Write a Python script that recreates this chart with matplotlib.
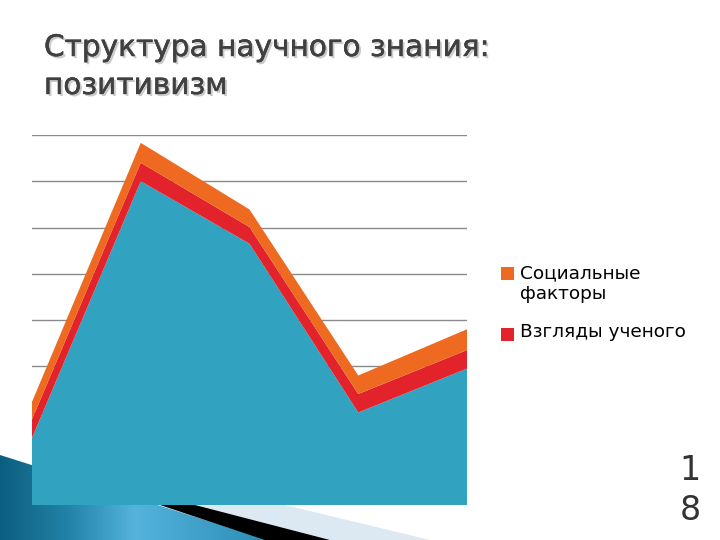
import matplotlib
matplotlib.use('Agg')
import matplotlib.pyplot as plt
import matplotlib.patheffects as pe
from matplotlib.patches import Polygon, Rectangle
from matplotlib.colors import LinearSegmentedColormap
import numpy as np

plt.rcParams['font.family'] = ['DejaVu Sans']

# chart data (stacked, bottom to top)
categories = ['1', '2', '3', '4', '5']
base_values = [1.45, 7.0, 5.65, 2.0, 2.95]
views_values = [0.4, 0.4, 0.36, 0.4, 0.4]
social_values = [0.38, 0.43, 0.38, 0.4, 0.45]
series_names = ['Социальные\nфакторы', 'Взгляды ученого']
title_lines = ['Структура научного знания:', 'позитивизм']
page_digits = ['1', '8']

blue = '#31A2C0'
red = '#E2232B'
orange = '#EE6A20'

W, H = 720, 540
fig = plt.figure(figsize=(7.2, 5.4), dpi=100)
fig.patch.set_facecolor('white')

def fx(px):
    return px / W

def fy(py):
    # pixel row (from top) -> figure fraction
    return 1 - py / H

# background decoration, pixel coords with y going down
bg = fig.add_axes([0, 0, 1, 1], zorder=0)
bg.set_xlim(0, W)
bg.set_ylim(H, 0)
bg.axis('off')

grad = LinearSegmentedColormap.from_list(
    'swoosh', [(0, '#0B5E7F'), (0.25, '#2282A8'), (0.5, '#55B3DC'), (1, '#2A8CB4')])
img = bg.imshow(np.linspace(0, 1, 256)[None, :], cmap=grad, aspect='auto',
                extent=(0, 270, 540, 450), zorder=1)
swoosh = Polygon([(0, 455), (268, 540), (0, 540)], closed=True,
                 transform=bg.transData, facecolor='none', edgecolor='none')
bg.add_patch(swoosh)
img.set_clip_path(swoosh)

bg.add_patch(Polygon([(195, 505), (285, 505), (430, 540), (330, 540)],
                     closed=True, facecolor='#DCE9F2', edgecolor='none', zorder=2))
bg.add_patch(Polygon([(160, 505), (195, 505), (330, 540), (265, 540)],
                     closed=True, facecolor='black', edgecolor='none', zorder=3))

# legend markers drawn on the background layer
bg.add_patch(Rectangle((501, 267), 13, 13, facecolor=orange, edgecolor='none', zorder=4))
bg.add_patch(Rectangle((501, 328), 13, 13, facecolor=red, edgecolor='none', zorder=4))

# main chart
ax = fig.add_axes([fx(32), fy(505), fx(435), 370 / H], zorder=1)
ax.set_facecolor('none')
x = np.arange(len(categories))
ax.stackplot(x, base_values, views_values, social_values,
             colors=[blue, red, orange], linewidth=0, zorder=2)
ax.set_xlim(0, len(categories) - 1)
ax.set_ylim(0, 8)
ax.set_yticks(np.arange(0, 9, 1))
ax.yaxis.grid(True, color='#8A8A8A', linewidth=1.0, zorder=0)
ax.set_axisbelow(True)
ax.tick_params(left=False, bottom=False, labelleft=False, labelbottom=False)
for s in ax.spines.values():
    s.set_visible(False)

# legend labels (baseline of last line)
fig.text(fx(520), fy(299), series_names[0], fontsize=13.3, color='black',
         ha='left', va='baseline', linespacing=1.2)
fig.text(fx(520), fy(337), series_names[1], fontsize=13.3, color='black',
         ha='left', va='baseline')

# title with a soft shadow
shadow = [pe.withStroke(linewidth=0.35, foreground='#404040'),
          pe.SimplePatchShadow(offset=(1.5, -1.5), shadow_rgbFace='#999999', alpha=0.5),
          pe.Normal()]
fig.text(fx(44), fy(56), title_lines[0], fontsize=21.3, color='#404040',
         va='baseline', ha='left', path_effects=shadow)
fig.text(fx(44), fy(94), title_lines[1], fontsize=21.3, color='#404040',
         va='baseline', ha='left', path_effects=shadow)

# slide number
fig.text(fx(690), fy(480), page_digits[0], fontsize=24, color='#333333',
         ha='center', va='baseline')
fig.text(fx(690), fy(520), page_digits[1], fontsize=24, color='#333333',
         ha='center', va='baseline')

fig.savefig('out.png', dpi=100)
